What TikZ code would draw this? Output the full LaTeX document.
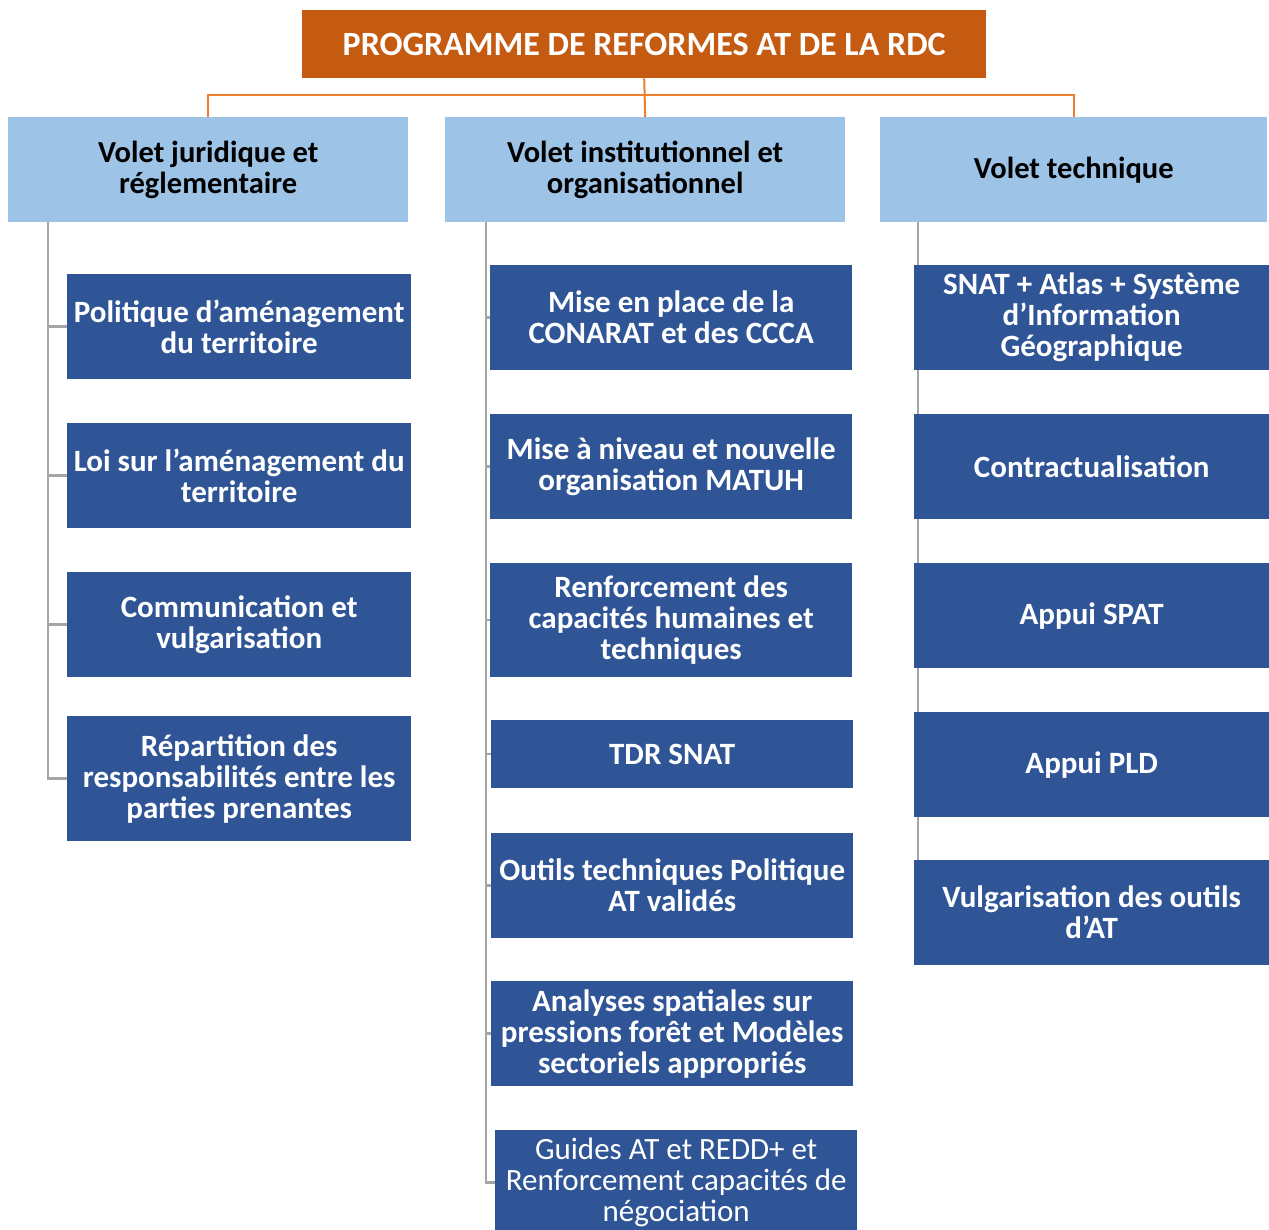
\documentclass[tikz,border=0pt]{standalone}
\usepackage{fontspec}
\setmainfont{Carlito}
\definecolor{titleor}{HTML}{C55A11}
\definecolor{lineor}{HTML}{ED7D31}
\definecolor{hdrblue}{HTML}{9DC3E6}
\definecolor{boxblue}{HTML}{2F5597}
\definecolor{lgray}{HTML}{A5A5A5}
\pgfdeclarelayer{background}
\pgfsetlayers{background,main}
\begin{document}
\begin{tikzpicture}[x=1pt,y=-1pt,
  titlebox/.style={fill=titleor,text=white,anchor=north west,inner sep=0pt,align=center,font=\fontsize{34}{38}\selectfont\bfseries},
  hdr/.style={fill=hdrblue,text=black,anchor=north west,inner sep=0pt,align=center,font=\fontsize{30.5}{31}\selectfont\bfseries},
  item/.style={fill=boxblue,text=white,anchor=north west,inner sep=0pt,align=center,font=\fontsize{31}{31}\selectfont\bfseries},
  itemreg/.style={item,font=\fontsize{31}{31}\selectfont},
  orl/.style={draw=lineor,line width=2pt},
  grl/.style={draw=lgray,line width=2.5pt}]
\useasboundingbox (0,0) rectangle (1269,1229);
% title and headers
\node[titlebox,minimum width=684pt,minimum height=68pt] (title) at (302,10) {PROGRAMME DE REFORMES AT DE LA RDC};
\node[hdr,minimum width=400pt,minimum height=105pt] (h1) at (8,117) {Volet juridique et\\réglementaire};
\node[hdr,minimum width=400pt,minimum height=105pt] (h2) at (445,117) {Volet institutionnel et\\organisationnel};
\node[hdr,minimum width=387pt,minimum height=105pt] (h3) at (880,117) {Volet technique};
% orange connectors
\draw[orl] (h1.north) -- ++(0,-22) -| (h3.north);
\draw[orl] (title.south) -- (h2.north);
% column 1
\node[item,minimum width=344pt,minimum height=105pt] (a1) at (67,274) {Politique d’aménagement\\du territoire};
\node[item,minimum width=344pt,minimum height=105pt] (a2) at (67,423) {Loi sur l’aménagement du\\territoire};
\node[item,minimum width=344pt,minimum height=105pt] (a3) at (67,572) {Communication et\\vulgarisation};
\node[item,minimum width=344pt,minimum height=125pt] (a4) at (67,716) {Répartition des\\responsabilités entre les\\parties prenantes};
% column 2
\node[item,minimum width=362pt,minimum height=105pt] (b1) at (490,265) {Mise en place de la\\CONARAT et des CCCA};
\node[item,minimum width=362pt,minimum height=105pt] (b2) at (490,414) {Mise à niveau et nouvelle\\organisation MATUH};
\node[item,minimum width=362pt,minimum height=114pt] (b3) at (490,563) {Renforcement des\\capacités humaines et\\techniques};
\node[item,minimum width=362pt,minimum height=68pt] (b4) at (491,720) {TDR SNAT};
\node[item,minimum width=362pt,minimum height=105pt] (b5) at (491,833) {Outils techniques Politique\\AT validés};
\node[item,minimum width=362pt,minimum height=105pt] (b6) at (491,981) {Analyses spatiales sur\\pressions forêt et Modèles\\sectoriels appropriés};
\node[itemreg,minimum width=362pt,minimum height=105pt] (b7) at (495,1130) {Guides AT et REDD+ et\\Renforcement capacités de\\négociation};
% column 3
\node[item,minimum width=355pt,minimum height=105pt] (c1) at (914,265) {SNAT + Atlas + Système\\d’Information\\Géographique};
\node[item,minimum width=355pt,minimum height=105pt] (c2) at (914,414) {Contractualisation};
\node[item,minimum width=355pt,minimum height=105pt] (c3) at (914,563) {Appui SPAT};
\node[item,minimum width=355pt,minimum height=105pt] (c4) at (914,712) {Appui PLD};
\node[item,minimum width=355pt,minimum height=105pt] (c5) at (914,860) {Vulgarisation des outils\\d’AT};
% gray connectors behind boxes
\begin{pgfonlayer}{background}
\coordinate (g1) at ([xshift=40pt]h1.south west);
\coordinate (g2) at ([xshift=41pt]h2.south west);
\coordinate (g3) at ([xshift=38pt]h3.south west);
\foreach \n in {a1,a2,a3,a4} \draw[grl] (g1) |- (\n.west);
\foreach \n in {b1,b2,b3,b4,b5,b6,b7} \draw[grl] (g2) |- (\n.west);
\foreach \n in {c1,c2,c3,c4,c5} \draw[grl] (g3) |- (\n.west);
\end{pgfonlayer}
\end{tikzpicture}
\end{document}
